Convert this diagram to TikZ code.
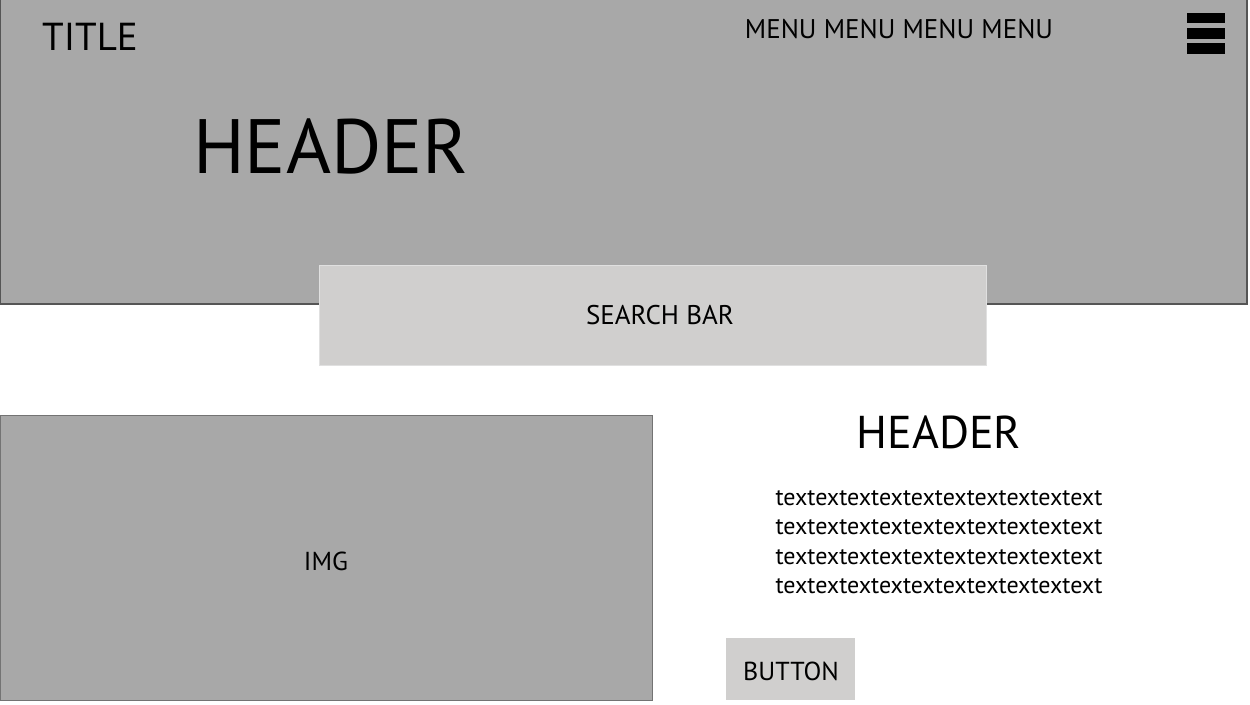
\documentclass[tikz,border=0pt]{standalone}
\usepackage{fontspec}
\setmainfont{PT Sans}
\usepackage{tikz}

\newcommand{\fsz}[1]{\fontsize{#1}{#1}\selectfont}

\begin{document}
\begin{tikzpicture}[x=1pt,y=-1pt,
  label text/.style={inner sep=0pt,text=black},
  bar/.style={fill=black}]
\definecolor{cdark}{RGB}{168,168,168}
\definecolor{clight}{RGB}{208,207,206}
\definecolor{cedge}{RGB}{85,85,85}
\useasboundingbox (0,0) rectangle (1250,704);
% top banner
\fill[cdark,draw=cedge,line width=1.2pt] (0.6,-1) rectangle (1247,304);
\node[label text,font=\fsz{39}] (title) at (90,37) {TITLE};
\node[label text,font=\fsz{27}] (menu) at (899,29) {MENU MENU MENU MENU};
\node[label text,font=\fsz{77}] (header) at (331,146) {HEADER};
\fill[bar] (1187,12.7) rectangle (1225,23.3);
\fill[bar] (1187,28.3) rectangle (1225,38.7);
\fill[bar] (1187,43.3) rectangle (1225,54);
% search bar
\fill[clight,draw=black!12,line width=0.8pt] (319,265.7) rectangle (986,365.5);
\node[label text,font=\fsz{27}] (search) at (660,315) {SEARCH BAR};
% image block
\fill[cdark,draw=black!55,line width=1pt] (0.5,415) rectangle (652,700);
\node[label text,font=\fsz{26}] (img) at (326,561) {IMG};
% side column
\node[label text,font=\fsz{46}] (subhead) at (939,432) {HEADER};
\node[label text,font=\fsz{24},align=left,text depth=0pt] (body) at (939,542)
  {textextextextextextextextextext\\[5.5pt]textextextextextextextextextext\\[5.5pt]textextextextextextextextextext\\[5.5pt]textextextextextextextextextext};
\fill[clight] (726,638.3) rectangle (855.3,700);
\node[label text,font=\fsz{26}] (button) at (791,671) {BUTTON};
\end{tikzpicture}
\end{document}
